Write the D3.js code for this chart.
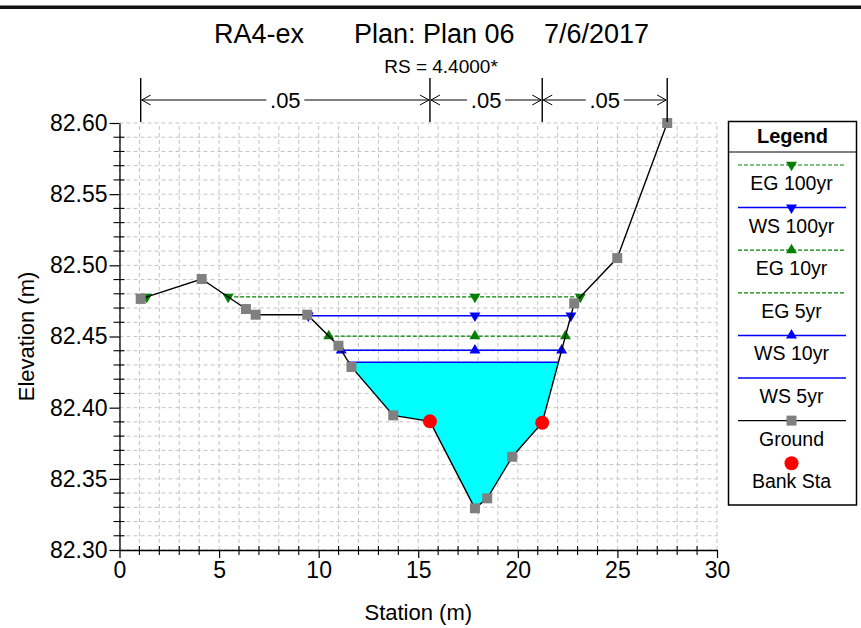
<!DOCTYPE html>
<html><head><meta charset="utf-8">
<script src="https://cdn.jsdelivr.net/npm/d3@7"></script>
<style>body{margin:0;background:#fff} text{font-family:"Liberation Sans",Arial,Helvetica,sans-serif;fill:#000}</style>
</head><body><svg id="c" width="861" height="628"></svg>
<script>
// ---------------- data ----------------
const groundSta  = [1.064, 4.126, 6.350, 6.837, 9.428, 10.994, 11.647, 13.745, 15.587, 17.846, 18.464, 19.719, 21.225, 22.831, 24.990, 27.500];
const groundElev = [82.4764, 82.4904, 82.4693, 82.4653, 82.4653, 82.4435, 82.4286, 82.3946, 82.3904, 82.3293, 82.3363, 82.3655, 82.3894, 82.4733, 82.5051, 82.6000];
const bankSta = [15.587, 21.225];
const nBreaks = [1.064, 15.587, 21.225, 27.500];
const nValues = [".05", ".05", ".05"];
const profileNames = ["EG 100yr", "WS 100yr", "EG 10yr", "EG 5yr", "WS 10yr", "WS 5yr"];
const profileElev  = [82.4778, 82.4646, 82.4503, 82.4403, 82.4403, 82.4319];
const xTicks = [0, 5, 10, 15, 20, 25, 30];
const yTicks = [82.30, 82.35, 82.40, 82.45, 82.50, 82.55, 82.60];
const titleParts = ["RA4-ex", "Plan: Plan 06", "7/6/2017"];
const subTitle = "RS = 4.4000*";
const xLabel = "Station (m)";
const yLabel = "Elevation (m)";
const legendTitle = "Legend";

// ---------------- styles ----------------
const GREEN = "#008000", BLUE = "#0000ff";
const pStyle = {
  "EG 100yr": {color: GREEN, dash: "4,2", marker: "down"},
  "WS 100yr": {color: BLUE, dash: null, marker: "down"},
  "EG 10yr":  {color: GREEN, dash: "4,2", marker: "up"},
  "EG 5yr":   {color: GREEN, dash: "4,2", marker: null},
  "WS 10yr":  {color: BLUE, dash: null, marker: "up"},
  "WS 5yr":   {color: BLUE, dash: null, marker: null}
};

const svg = d3.select("#c");
const x = d3.scaleLinear().domain([0, 30]).range([119.5, 717]);
const y = d3.scaleLinear().domain([82.30, 82.60]).range([550, 123]);
const x0 = x.range()[0], x1 = x.range()[1], yB = y.range()[0], yT = y.range()[1];

// top border
svg.append("rect").attr("x", 0).attr("y", 5.5).attr("width", 861).attr("height", 3.5).attr("fill", "#111");

// titles
const tX = [214, 354, 544];
titleParts.forEach((t, i) => svg.append("text").attr("x", tX[i]).attr("y", 43)
  .attr("font-size", 27).text(t));
svg.append("text").attr("x", 441).attr("y", 73).attr("text-anchor", "middle")
  .attr("font-size", 19).text(subTitle);

// grid
const g = svg.append("g");
const gridX = d3.range(0, 31, 1);
const gridY = d3.range(0, 31).map(i => 82.30 + i * 0.01);
g.selectAll(".gx").data(gridX).join("line")
  .attr("x1", d => x(d)).attr("x2", d => x(d)).attr("y1", yB).attr("y2", yT)
  .attr("stroke", "#c4c4c4").attr("stroke-width", 1).attr("stroke-dasharray", "4,3");
g.selectAll(".gy").data(gridY).join("line")
  .attr("x1", x0).attr("x2", x1).attr("y1", d => y(d)).attr("y2", d => y(d))
  .attr("stroke", "#c4c4c4").attr("stroke-width", 1).attr("stroke-dasharray", "4,3");

// --------- water computations ---------
function segments(level) {
  const segs = [];
  let start = null;
  const n = groundSta.length;
  if (groundElev[0] < level) start = groundSta[0];
  for (let i = 0; i < n - 1; i++) {
    const a = groundElev[i] < level, b = groundElev[i + 1] < level;
    if (a !== b) {
      const f = (level - groundElev[i]) / (groundElev[i + 1] - groundElev[i]);
      const s = groundSta[i] + f * (groundSta[i + 1] - groundSta[i]);
      if (!a && b) start = s; else { segs.push([start, s]); start = null; }
    }
  }
  if (start !== null) segs.push([start, groundSta[n - 1]]);
  return segs;
}
const minIdx = d3.minIndex(groundElev);
const thalweg = groundSta[minIdx];

// fill for lowest WS (WS 5yr)
const wsLevel = profileElev[5];
segments(wsLevel).forEach(([s0, s1]) => {
  const pts = [[s0, wsLevel]];
  groundSta.forEach((s, i) => { if (s > s0 && s < s1) pts.push([s, groundElev[i]]); });
  pts.push([s1, wsLevel]);
  svg.append("path").attr("d", d3.line().x(d => x(d[0])).y(d => y(d[1]))(pts) + "Z")
    .attr("fill", "#00ffff").attr("stroke", "none");
});

function marker(sel, type, cx, cy, color) {
  const p = d3.symbol().type(d3.symbolTriangle).size(52)();
  sel.append("path").attr("d", p)
    .attr("transform", `translate(${cx},${cy})` + (type === "down" ? " rotate(180)" : ""))
    .attr("fill", color);
}

// profile lines
profileNames.forEach((name, k) => {
  const st = pStyle[name], lev = profileElev[k];
  segments(lev).forEach(([s0, s1]) => {
    svg.append("line").attr("x1", x(s0)).attr("x2", x(s1)).attr("y1", y(lev)).attr("y2", y(lev))
      .attr("stroke", st.color).attr("stroke-width", st.dash ? 1.2 : 1.5)
      .attr("stroke-dasharray", st.dash);
  });
});
// markers on top of lines
profileNames.forEach((name, k) => {
  const st = pStyle[name], lev = profileElev[k];
  if (!st.marker) return;
  segments(lev).forEach(([s0, s1]) => {
    const ms = [s0, s1];
    if (thalweg > s0 && thalweg < s1) ms.push(thalweg);
    ms.forEach(s => marker(svg, st.marker, x(s), y(lev), st.color));
  });
});

// ground
const gpts = groundSta.map((s, i) => [s, groundElev[i]]);
svg.append("path").attr("d", d3.line().x(d => x(d[0])).y(d => y(d[1]))(gpts))
  .attr("fill", "none").attr("stroke", "#000").attr("stroke-width", 1.4);
svg.selectAll(".gm").data(gpts.filter(d => !bankSta.includes(d[0]))).join("rect")
  .attr("x", d => x(d[0]) - 5).attr("y", d => y(d[1]) - 5).attr("width", 10).attr("height", 10)
  .attr("fill", "#808080");
svg.selectAll(".bk").data(bankSta).join("circle")
  .attr("cx", d => x(d)).attr("cy", d => y(groundElev[groundSta.indexOf(d)])).attr("r", 7)
  .attr("fill", "#ff0000");

// axes
const ax = svg.append("g").attr("transform", `translate(${x0},0)`)
  .call(d3.axisLeft(y).tickValues(yTicks).tickFormat(d3.format(".2f")).tickSizeInner(10).tickSizeOuter(0).tickPadding(2));
ax.select(".domain").attr("stroke", "#000").attr("stroke-width", 1.3);
ax.selectAll(".tick line").attr("stroke", "#000").attr("stroke-width", 1.2);
ax.selectAll("text").attr("font-size", 23).attr("font-family", '"Liberation Sans",Arial,sans-serif').attr("fill", "#000");
const minorY = gridY.filter(v => Math.abs(Math.round(v * 20) - v * 20) > 1e-6);
svg.selectAll(".my").data(minorY).join("line")
  .attr("x1", x0 - 6).attr("x2", x0 + 5).attr("y1", d => y(d)).attr("y2", d => y(d))
  .attr("stroke", "#000").attr("stroke-width", 1.1);

const bx = svg.append("g").attr("transform", `translate(0,${yB})`)
  .call(d3.axisBottom(x).tickValues(xTicks).tickSizeInner(8).tickSizeOuter(0).tickPadding(4));
bx.select(".domain").attr("stroke", "#000").attr("stroke-width", 1.3);
bx.selectAll(".tick line").attr("stroke", "#000").attr("stroke-width", 1.2);
bx.selectAll("text").attr("font-size", 23).attr("font-family", '"Liberation Sans",Arial,sans-serif').attr("fill", "#000");
const minorX = gridX.filter(v => v % 5 !== 0);
svg.selectAll(".mx").data(minorX).join("line")
  .attr("x1", d => x(d)).attr("x2", d => x(d)).attr("y1", yB - 4).attr("y2", yB + 5)
  .attr("stroke", "#000").attr("stroke-width", 1.1);

svg.append("text").attr("x", (x0 + x1) / 2).attr("y", 620).attr("text-anchor", "middle")
  .attr("font-size", 22).text(xLabel);
svg.append("text").attr("transform", `translate(34,${(yB + yT) / 2}) rotate(-90)`)
  .attr("text-anchor", "middle").attr("font-size", 22).text(yLabel);

// Manning's n
const ny = 100;
nBreaks.forEach(s => svg.append("line").attr("x1", x(s)).attr("x2", x(s)).attr("y1", 78).attr("y2", 122)
  .attr("stroke", "#000").attr("stroke-width", 1.4));
nValues.forEach((v, i) => {
  const a = x(nBreaks[i]), b = x(nBreaks[i + 1]), m = (a + b) / 2;
  svg.append("line").attr("x1", a + 1).attr("x2", b - 1).attr("y1", ny).attr("y2", ny)
    .attr("stroke", "#000").attr("stroke-width", 1);
  svg.append("path").attr("d", `M${a + 10},${ny - 5}L${a + 1},${ny}L${a + 10},${ny + 5}`)
    .attr("fill", "none").attr("stroke", "#000").attr("stroke-width", 1);
  svg.append("path").attr("d", `M${b - 10},${ny - 5}L${b - 1},${ny}L${b - 10},${ny + 5}`)
    .attr("fill", "none").attr("stroke", "#000").attr("stroke-width", 1);
  svg.append("rect").attr("x", m - 19).attr("y", ny - 10).attr("width", 38).attr("height", 20).attr("fill", "#fff");
  svg.append("text").attr("x", m).attr("y", ny + 8).attr("text-anchor", "middle")
    .attr("font-size", 22).text(v);
});

// legend
const L = svg.append("g");
L.append("rect").attr("x", 728.5).attr("y", 121.5).attr("width", 128).attr("height", 383.5)
  .attr("fill", "#fff").attr("stroke", "#000").attr("stroke-width", 1.5);
L.append("text").attr("x", 792.5).attr("y", 143).attr("text-anchor", "middle")
  .attr("font-size", 20).attr("font-weight", "bold").text(legendTitle);
L.append("line").attr("x1", 728.5).attr("x2", 856.5).attr("y1", 152).attr("y2", 152)
  .attr("stroke", "#000").attr("stroke-width", 1.2);
const legNames = profileNames.concat(["Ground", "Bank Sta"]);
const lx0 = 738, lx1 = 846, lmx = 791.5;
legNames.forEach((name, i) => {
  const ly = 165 + i * 42.6;
  if (pStyle[name]) {
    const st = pStyle[name];
    L.append("line").attr("x1", lx0).attr("x2", lx1).attr("y1", ly).attr("y2", ly)
      .attr("stroke", st.color).attr("stroke-width", st.dash ? 1.2 : 1.5).attr("stroke-dasharray", st.dash);
    if (st.marker) marker(L, st.marker, lmx, ly, st.color);
  } else if (name === "Ground") {
    L.append("line").attr("x1", lx0).attr("x2", lx1).attr("y1", ly).attr("y2", ly)
      .attr("stroke", "#000").attr("stroke-width", 1.4);
    L.append("rect").attr("x", lmx - 5).attr("y", ly - 5).attr("width", 10).attr("height", 10).attr("fill", "#808080");
  } else {
    L.append("circle").attr("cx", lmx).attr("cy", ly).attr("r", 7).attr("fill", "#ff0000");
  }
  L.append("text").attr("x", lmx).attr("y", ly + 25).attr("text-anchor", "middle")
    .attr("font-size", 19.5).text(name);
});
</script></body></html>
